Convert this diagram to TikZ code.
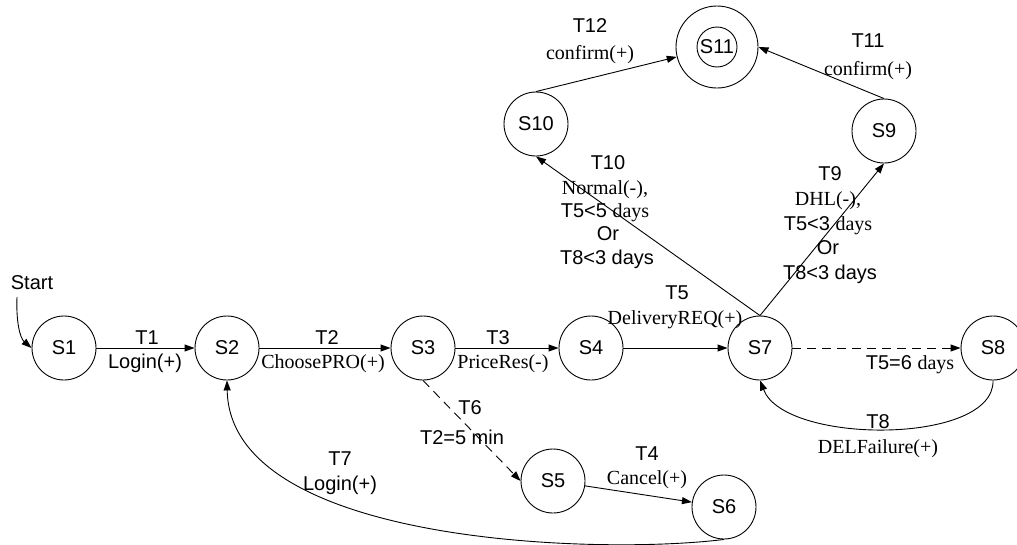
\documentclass[tikz,border=0pt]{standalone}
\usepackage{fontspec}
\setmainfont{Liberation Serif}
\setsansfont{Liberation Sans}
\usetikzlibrary{arrows.meta}
\begin{document}
\begin{tikzpicture}[x=1pt,y=-1pt,
  st/.style={circle,draw,line width=0.9pt,minimum size=64pt,inner sep=0pt,font=\sffamily\fontsize{20}{24}\selectfont},
  lb/.style={inner sep=0pt,text height=14pt,text depth=0pt,font=\sffamily\fontsize{20}{24}\selectfont},
  arr/.style={line width=0.9pt,-{Triangle[length=10pt,width=7pt]}},
  dsh/.style={arr,dash pattern=on 9pt off 6pt}]
\useasboundingbox (0,0) rectangle (1017,544);
% states
\node[st] (S1) at (64,348) {S1};
\node[st] (S2) at (227,348) {S2};
\node[st] (S3) at (423,348) {S3};
\node[st] (S4) at (591,348) {S4};
\node[st] (S7) at (760,348) {S7};
\node[st] (S8) at (993,348) {S8};
\node[st] (S5) at (553,481) {S5};
\node[st] (S6) at (724,507) {S6};
\node[st] (S10) at (536,124) {S10};
\node[st] (S9) at (884,131) {S9};
\node[st,minimum size=82pt] (S11) at (717,47) {};
\node[st,minimum size=40pt] (S11i) at (S11.center) {S11};
% start
\node[lb] (start) at (32,282) {Start};
\coordinate (st0) at (17,297);
\draw[arr] (st0) .. controls (16,322) and (20,338) .. (S1.west);
% connectors
\draw[arr] (S1) -- (S2);
\draw[arr] (S2) -- (S3);
\draw[arr] (S3) -- (S4);
\draw[arr] (S4) -- (S7);
\draw[dsh] (S7) -- (S8);
\draw[arr] (S8.south) .. controls (995,445) and (785,445) .. (S7.south);
\draw[dsh] (S3.south) -- (S5.west);
\draw[arr] (S5) -- (S6);
\draw[arr] (S6.south) .. controls (600,555) and (230,545) .. (S2.south);
\draw[arr] (S7.north) -- (S10.south);
\draw[arr] (S7.north) -- (S9.south);
\draw[arr] (S10.north) -- (S11);
\draw[arr] (S9.north) -- (S11.east);
% labels
\node[lb] (l1a) at (147,337) {T1};
\node[lb] (l1b) at (145,361) {Login(+)};
\node[lb] (l2a) at (327,337) {T2};
\node[lb] (l2b) at (323,361) {\rmfamily ChoosePRO(+)};
\node[lb] (l3a) at (498,337) {T3};
\node[lb] (l3b) at (503,361) {\rmfamily PriceRes(-)};
\node[lb] (l5a) at (677,292) {T5};
\node[lb] (l5b) at (675,317) {\rmfamily DeliveryREQ(+)};
\node[lb] (l56) at (910,362) {T5=6 {\rmfamily days}};
\node[lb] (l8a) at (878,421) {T8};
\node[lb] (l8b) at (878,446) {\rmfamily DELFailure(+)};
\node[lb] (l6a) at (470,407) {T6};
\node[lb] (l6b) at (462,437) {T2=5 min};
\node[lb] (l4a) at (647,453) {T4};
\node[lb] (l4b) at (647,477) {\rmfamily Cancel(+)};
\node[lb] (l7a) at (340,458) {T7};
\node[lb] (l7b) at (340,483) {Login(+)};
\node[lb] (l10a) at (608,162) {T10};
\node[lb] (l10b) at (605,187) {\rmfamily Normal(-),};
\node[lb] (l10c) at (605,210) {T5<5 {\rmfamily days}};
\node[lb] (l10d) at (608,233) {Or};
\node[lb] (l10e) at (607,257) {T8<3 days};
\node[lb] (l9a) at (830,173) {T9};
\node[lb] (l9b) at (828,198) {\rmfamily DHL(-),};
\node[lb] (l9c) at (828,223) {T5<3 {\rmfamily days}};
\node[lb] (l9d) at (828,247) {Or};
\node[lb] (l9e) at (830,272) {T8<3 days};
\node[lb] (l12a) at (590,25) {T12};
\node[lb] (l12b) at (590,52) {\rmfamily confirm(+)};
\node[lb] (l11a) at (868,40) {T11};
\node[lb] (l11b) at (868,68) {\rmfamily confirm(+)};
\end{tikzpicture}
\end{document}
